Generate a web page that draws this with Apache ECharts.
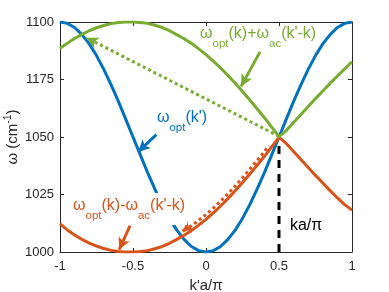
<!DOCTYPE html>
<html><head><meta charset="utf-8">
<script src="https://cdn.jsdelivr.net/npm/echarts@6/dist/echarts.min.js"></script>
<style>html,body{margin:0;padding:0;background:#fff}#c{width:389px;height:292px}</style>
</head><body><div id="c"></div>
<script>
// ---- data ----
const kValues = [-1,-0.95,-0.9,-0.85,-0.8,-0.75,-0.7,-0.65,-0.6,-0.55,-0.5,-0.45,-0.4,-0.35,-0.3,-0.25,-0.2,-0.15,-0.1,-0.05,0,0.05,0.1,0.15,0.2,0.25,0.3,0.35,0.4,0.45,0.5,0.55,0.6,0.65,0.7,0.75,0.8,0.85,0.9,0.95,1];
const omegaOpt = [1100.0,1099.4,1097.6,1094.5,1090.5,1085.4,1079.4,1072.7,1065.5,1057.8,1050.0,1042.2,1034.5,1027.3,1020.6,1014.6,1009.5,1005.5,1002.4,1000.6,1000.0,1000.6,1002.4,1005.5,1009.5,1014.6,1020.6,1027.3,1034.5,1042.2,1050.0,1057.8,1065.5,1072.7,1079.4,1085.4,1090.5,1094.5,1097.6,1099.4,1100.0];
const omegaPlus = [1088.6,1090.8,1092.8,1094.6,1096.2,1097.5,1098.5,1099.3,1099.8,1100.0,1100.0,1099.8,1099.4,1098.6,1097.6,1096.2,1094.5,1092.7,1090.7,1088.3,1085.8,1083.0,1080.0,1076.8,1073.4,1069.8,1066.1,1062.3,1058.4,1054.3,1050.2,1052.8,1056.3,1059.8,1063.3,1066.7,1070.0,1073.3,1076.5,1079.6,1082.7];
const omegaMinus = [1012.2,1009.6,1007.4,1005.5,1003.9,1002.6,1001.5,1000.7,1000.2,1000.0,1000.0,1000.2,1000.6,1001.4,1002.4,1003.8,1005.5,1007.3,1009.3,1011.7,1014.2,1017.0,1020.0,1023.2,1026.6,1030.2,1033.9,1037.7,1041.6,1045.7,1049.8,1047.2,1043.7,1040.2,1036.7,1033.3,1030.0,1026.7,1023.5,1020.6,1018.2];
const dotK = [-0.15,-0.1,-0.05,0,0.05,0.1,0.15,0.2,0.25,0.3,0.35,0.4,0.43];
const dotOmega = [1009.4,1011.4,1013.8,1016.3,1019.1,1022.1,1025.3,1028.7,1032.3,1036.0,1039.8,1043.7,1046.2];
const dashK = [0.5, 0.5];
const dashOmega = [1000, 1050];
const xTickLabels = ['-1','-0.5','0','0.5','1'];
const yTickLabels = ['1000','1025','1050','1175','1100'];

// annotation anchors (data coordinates)
const blueArrow = [[-0.34,1051],[-0.465,1043.5]];
const greenArrow = [[0.37,1087],[0.24,1072]];
const orangeArrow = [[-0.52,1011.5],[-0.595,1001]];
const greenDotArrow = [[0.5,1050.3],[-0.82,1093.2]];
const orangeDotTip = [[-0.12,1010.9],[-0.16,1009.0]];

const FONT = '"Liberation Sans", Arial, Helvetica, sans-serif';
const AX = '#262626';
const BLUE = '#0072BD', ORANGE = '#D95319', GREEN = '#77AC30';

const pairs = (xs, ys) => xs.map((x, i) => [x, ys[i]]);
const chart = echarts.init(document.getElementById('c'), null, {renderer: 'canvas'});

const xBase = {type:'value', min:-1, max:1, interval:0.5,
  axisLine:{show:true, onZero:false, lineStyle:{color:AX, width:1}},
  axisTick:{show:true, inside:true, length:4, lineStyle:{color:AX}},
  splitLine:{show:false}};
const yBase = {type:'value', min:1000, max:1100, interval:25,
  axisLine:{show:true, onZero:false, lineStyle:{color:AX, width:1}},
  axisTick:{show:true, inside:true, length:4, lineStyle:{color:AX}},
  splitLine:{show:false}};

function arrowLine(pts, color, dotted, size) {
  return {silent:true, symbol:['none','arrow'], symbolSize:size || [9,12], animation:false,
    label:{show:false}, emphasis:{disabled:true},
    lineStyle:{color:color, width:3, type: dotted ? [3,3] : 'solid', cap:'butt'},
    data:[[{coord:pts[0]},{coord:pts[1]}]]};
}

chart.setOption({
  animation:false,
  grid:{left:60, right:37, top:22, bottom:40, outerBoundsMode:'none', containLabel:false},
  xAxis:[
    Object.assign({}, xBase, {position:'bottom',
      axisLabel:{margin:8, color:AX, fontSize:13, fontFamily:FONT,
        formatter: v => xTickLabels[Math.round((v + 1) / 0.5)]},
      name:"k'a/π", nameLocation:'middle', nameGap:24,
      nameTextStyle:{color:AX, fontSize:15, fontFamily:FONT}}),
    Object.assign({}, xBase, {position:'top', axisLabel:{show:false}})
  ],
  yAxis:[
    Object.assign({}, yBase, {position:'left',
      axisLabel:{margin:6, color:AX, fontSize:13, fontFamily:FONT,
        formatter: v => yTickLabels[Math.round((v - 1000) / 25)]}}),
    Object.assign({}, yBase, {position:'right', axisLabel:{show:false}})
  ],
  series:[
    {type:'line', data:pairs(dashK, dashOmega), symbol:'none', silent:true,
      lineStyle:{color:'#000', width:3, type:[8,6], cap:'butt'}, z:2},
    {type:'line', data:pairs(kValues, omegaOpt), symbol:'none', silent:true,
      lineStyle:{color:BLUE, width:3}, z:3, markLine:arrowLine(blueArrow, BLUE)},
    {type:'line', data:pairs(kValues, omegaMinus), symbol:'none', silent:true,
      lineStyle:{color:ORANGE, width:3}, z:4, markLine:arrowLine(orangeArrow, ORANGE)},
    {type:'line', data:pairs(dotK, dotOmega), symbol:'none', silent:true,
      lineStyle:{color:ORANGE, width:3, type:[3,3], cap:'butt'}, z:4,
      markLine:arrowLine(orangeDotTip, ORANGE, false, [8,10])},
    {type:'line', data:pairs(kValues, omegaPlus), symbol:'none', silent:true,
      lineStyle:{color:GREEN, width:3}, z:5,
      markLine:{...arrowLine(greenArrow, GREEN), data:[
        [{coord:greenArrow[0]},{coord:greenArrow[1]}],
        [{coord:greenDotArrow[0], lineStyle:{type:[3,3], width:3, color:GREEN}, symbolSize:[8,10]},{coord:greenDotArrow[1]}]
      ]}}
  ]
});

// ---- text annotations built from measured pieces ----
const ctx = document.createElement('canvas').getContext('2d');
function compose(parts, x0, y0, color, size, subSize, subDy, supDy) {
  let x = x0; const els = [];
  for (const p of parts) {
    const fs = (p.s || p.u) ? subSize : size;
    const f = fs + 'px ' + FONT;
    ctx.font = f;
    const w = ctx.measureText(p.t).width;
    els.push({type:'text', x:x, y:y0 + (p.s ? subDy : p.u ? supDy : 0), z:100, silent:true,
      style:{text:p.t, font:f, fill:color, textAlign:'left', textVerticalAlign:'middle',
             align:'left', verticalAlign:'middle'}});
    x += w;
  }
  return {els:els, width:x - x0};
}
const toPx = p => chart.convertToPixel({gridIndex:0}, p);

const blueAnchor = toPx([-0.336, 1058.3]);
const greenAnchor = toPx([-0.041, 1094.8]);
const orangeAnchor = toPx([-0.911, 1020.0]);
const kaAnchor = toPx([0.575, 1011.3]);

const M = 16, S = 11.5, SUB = 9.5, SUP = -4.5;
const bl = compose([{t:'ω'},{t:'opt',s:1},{t:"(k')"}], blueAnchor[0], blueAnchor[1], BLUE, M, S, SUB, SUP);
const gl = compose([{t:'ω'},{t:'opt',s:1},{t:'(k)+ω'},{t:'ac',s:1},{t:"(k'-k)"}], greenAnchor[0], greenAnchor[1], GREEN, M, S, SUB, SUP);
const ol = compose([{t:'ω'},{t:'opt',s:1},{t:'(k)-ω'},{t:'ac',s:1},{t:"(k'-k)"}], orangeAnchor[0], orangeAnchor[1], ORANGE, M, S, SUB, SUP);
const kl = compose([{t:'ka/π'}], kaAnchor[0], kaAnchor[1], '#000', M, S, SUB, SUP);
const yn = compose([{t:'ω (cm'},{t:'-1',u:1},{t:')'}], 0, 0, AX, 15, 10.5, SUB, -5);
yn.els.forEach(e => { e.x -= yn.width / 2; });

const orangeBg = {type:'rect', z:99, silent:true,
  shape:{x:orangeAnchor[0] - 2, y:orangeAnchor[1] - 13, width:ol.width + 4, height:32},
  style:{fill:'#fff'}};

chart.setOption({graphic:[
  orangeBg,
  ...bl.els, ...gl.els, ...ol.els, ...kl.els,
  {type:'group', x:13, y:137, rotation:Math.PI / 2, children:yn.els}
]});
</script>
</body></html>
